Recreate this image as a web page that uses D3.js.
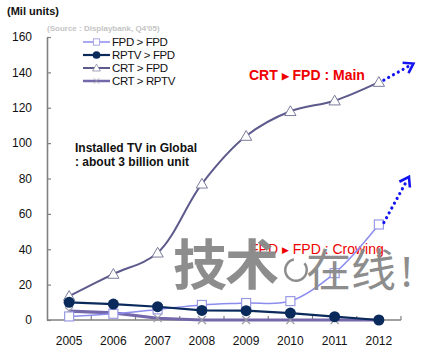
<!DOCTYPE html>
<html>
<head>
<meta charset="utf-8">
<script src="https://cdn.jsdelivr.net/npm/d3@7"></script>
<style>
  body { margin: 0; background: #fff; }
  svg { display: block; font-family: "Liberation Sans", Arial, sans-serif; }
</style>
</head>
<body>
<div id="viz-container"></div>
<script>
// data
let years = ["2005", "2006", "2007", "2008", "2009", "2010", "2011", "2012"];
let fpdToFpd  = [2, 3.5, 6, 8.5, 9.6, 10.7, 26.5, 54];
let rptvToFpd = [10, 9, 7.5, 5.4, 5.3, 3.9, 1.9, 0];
let crtToFpd  = [13.5, 26, 38, 77, 104, 118, 124, 134.5];
let crtToRptv = [5, 4, 1, 0, 0, 0, 0, 0];
let yTicks = [0, 20, 40, 60, 80, 100, 120, 140, 160];
let legendNames = ["FPD > FPD", "RPTV > FPD", "CRT > FPD", "CRT > RPTV"];

let W = 430, H = 363;

let viz = d3.select("#viz-container")
    .append("svg")
        .attr("width", W)
        .attr("height", H)
;

let x = d3.scaleBand().domain(years).range([47, 401]);
let cx = d => x(d) + x.bandwidth() / 2;
let y = d3.scaleLinear().domain([0, 160]).range([320, 37]);

// titles
viz.append("text").text("(Mil units)")
    .attr("x", 7).attr("y", 15)
    .attr("font-size", 11).attr("font-weight", "bold").attr("fill", "#111");
viz.append("text").text("(Source : Displaybank, Q4'05)")
    .attr("x", 47).attr("y", 31)
    .attr("font-size", 8).attr("font-weight", "bold").attr("fill", "#c4c4c4");

// y axis
let yAxis = viz.append("g")
    .attr("transform", "translate(47,0)")
    .call(d3.axisLeft(y).tickValues(yTicks).tickSizeInner(-4).tickSizeOuter(0).tickPadding(15));
yAxis.select(".domain").attr("stroke", "#808080").attr("stroke-width", 1.6);
yAxis.selectAll(".tick line").attr("stroke", "#808080").attr("stroke-width", 1.2);
yAxis.selectAll(".tick text").attr("font-size", 12).attr("fill", "#111")
    .attr("font-family", "Liberation Sans, Arial, sans-serif");

// x axis
let xg = viz.append("g");
xg.append("line")
    .attr("x1", x.range()[0]).attr("x2", x.range()[1])
    .attr("y1", y(0)).attr("y2", y(0))
    .attr("stroke", "#808080").attr("stroke-width", 1.6);
xg.selectAll(".xt").data(years.slice(1).map(d => x(d)).concat([x.range()[1]]))
    .enter().append("line")
    .attr("x1", d => d).attr("x2", d => d)
    .attr("y1", y(0)).attr("y2", y(0) - 4)
    .attr("stroke", "#808080").attr("stroke-width", 1.2);
xg.selectAll(".xl").data(years).enter().append("text")
    .text(d => d)
    .attr("x", cx).attr("y", 345)
    .attr("text-anchor", "middle")
    .attr("font-size", 12).attr("fill", "#111");

// annotation text (drawn under lines / watermark)
viz.append("text").text("Installed TV in Global")
    .attr("x", 75).attr("y", 152)
    .attr("font-size", 12).attr("font-weight", "bold").attr("fill", "#111");
viz.append("text").text(": about 3 billion unit")
    .attr("x", 75).attr("y", 166)
    .attr("font-size", 12).attr("font-weight", "bold").attr("fill", "#111");

let crtNote = viz.append("text")
    .attr("x", 249).attr("y", 80)
    .attr("font-size", 14).attr("font-weight", "bold").attr("fill", "#ee0000");
crtNote.append("tspan").text("CRT ");
crtNote.append("tspan").text("\u25B6").attr("font-size", 9).attr("dy", -1);
crtNote.append("tspan").text(" FPD : Main").attr("dy", 1);

let fpdNote = viz.append("text")
    .attr("x", 250).attr("y", 254)
    .attr("font-size", 14).attr("fill", "#ee0000");
fpdNote.append("tspan").text("FPD ");
fpdNote.append("tspan").text("\u25B6").attr("font-size", 9).attr("dy", -1);
fpdNote.append("tspan").text(" FPD : Crowing").attr("dy", 1);

// series
let series = [
    { name: legendNames[0], vals: fpdToFpd,  color: "#8c8cee", width: 1.5, mark: "square",   curve: d3.curveCatmullRom.alpha(0.5) },
    { name: legendNames[1], vals: rptvToFpd, color: "#0b2a5c", width: 2.2, mark: "circle",   curve: d3.curveLinear },
    { name: legendNames[2], vals: crtToFpd,  color: "#5d5a8c", width: 2,   mark: "triangle", curve: d3.curveCatmullRom.alpha(0.5) },
    { name: legendNames[3], vals: crtToRptv, color: "#7467aa", width: 3.2, mark: "cross",    curve: d3.curveLinear }
];

function drawMark(g, s, px, py) {
    if (s.mark === "square") {
        g.append("rect").attr("x", px - 4.5).attr("y", py - 4.5).attr("width", 9).attr("height", 9)
            .attr("fill", "#fff").attr("stroke", "#9a9ae4").attr("stroke-width", 1.2);
    } else if (s.mark === "circle") {
        g.append("circle").attr("cx", px).attr("cy", py).attr("r", 5.5).attr("fill", s.color);
    } else if (s.mark === "triangle") {
        g.append("path").attr("d", d3.symbol(d3.symbolTriangle, 55)()).attr("transform", "translate(" + px + "," + (py + 1) + ")")
            .attr("fill", "#fff").attr("stroke", "#7c7c9c").attr("stroke-width", 1);
    } else {
        g.append("path").attr("d", "M-4,-4L4,4M-4,4L4,-4").attr("transform", "translate(" + px + "," + py + ")")
            .attr("stroke", "#9a9aa6").attr("stroke-width", 1.1).attr("fill", "none");
    }
}

// draw in order: CRT>RPTV, FPD>FPD, CRT>FPD, RPTV>FPD
[3, 0, 2, 1].forEach(i => {
    let s = series[i];
    let line = d3.line().x((d, j) => cx(years[j])).y(d => y(d)).curve(s.curve);
    let g = viz.append("g");
    g.append("path").datum(s.vals).attr("d", line)
        .attr("fill", "none").attr("stroke", s.color).attr("stroke-width", s.width);
    s.vals.forEach((v, j) => drawMark(g, s, cx(years[j]), y(v)));
});

// dotted trend arrows (ends given in data units: band offset, value)
let arrows = [
    { from: crtToFpd[7], toOff: 0.78, toVal: 145 },
    { from: fpdToFpd[7], toOff: 0.68, toVal: 81 }
];
let last = years[years.length - 1];
arrows.forEach(a => {
    let x1 = cx(last) + 5, y1 = y(a.from) - 2;
    let x2 = cx(last) + a.toOff * x.bandwidth(), y2 = y(a.toVal);
    let ang = Math.atan2(y2 - y1, x2 - x1);
    let len = Math.hypot(x2 - x1, y2 - y1);
    let g = viz.append("g").attr("transform", "translate(" + x1 + "," + y1 + ") rotate(" + (ang * 180 / Math.PI) + ")");
    g.append("line").attr("x1", 0).attr("y1", 0).attr("x2", len - 3).attr("y2", 0)
        .attr("stroke", "#1414f0").attr("stroke-width", 3.2)
        .attr("stroke-dasharray", "0,5.5").attr("stroke-linecap", "round");
    g.append("path").attr("d", "M" + (len - 9) + ",-6L" + len + ",0L" + (len - 9) + ",6")
        .attr("fill", "none").attr("stroke", "#1414f0").attr("stroke-width", 2.6);
});

// legend
let lg = viz.append("g");
[0, 1, 2, 3].forEach(i => {
    let s = series[i];
    let ly = 42 + i * 13;
    lg.append("line").attr("x1", 83).attr("x2", 110).attr("y1", ly).attr("y2", ly)
        .attr("stroke", s.color).attr("stroke-width", Math.min(s.width, 2.5));
    let g = lg.append("g").attr("transform", "translate(96.5," + ly + ") scale(0.7)");
    drawMark(g, s, 0, 0);
    lg.append("text").text(s.name).attr("x", 112).attr("y", ly + 4)
        .attr("font-size", 11.5).attr("letter-spacing", -0.4).attr("fill", "#111");
});

// watermark
let wm = viz.append("g").attr("fill", "#8a8a8a").attr("opacity", 0.97)
    .attr("font-family", "Noto Sans CJK SC, sans-serif");
wm.append("text").text("技术").attr("x", 173).attr("y", 285)
    .attr("font-size", 54).attr("font-weight", "bold").attr("letter-spacing", -2);
wm.append("path")
    .attr("d", d3.arc().innerRadius(9.5).outerRadius(12).startAngle(0.9).endAngle(2 * Math.PI - 0.2)())
    .attr("transform", "translate(296,270)");
wm.append("text").text("在线").attr("x", 306).attr("y", 287)
    .attr("font-size", 45);
wm.append("text").text("!").attr("x", 401).attr("y", 287)
    .attr("font-size", 42).attr("font-family", "Noto Sans, sans-serif");
</script>
</body>
</html>
